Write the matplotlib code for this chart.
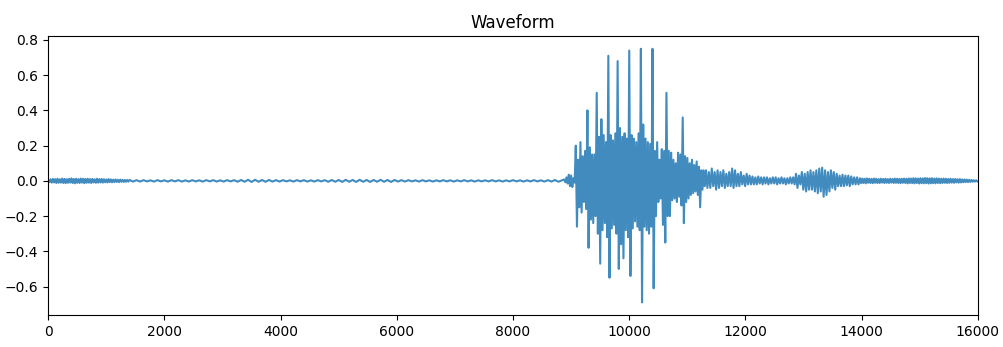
import numpy as np
import matplotlib
matplotlib.use("Agg")
import matplotlib.pyplot as plt

# Each segment: first sample index, samples per peak-trough pair, peaks, troughs.
# The quiet stretches are given in thousandths of full scale.
LEAD_START, LEAD_STEP = 0, 40
lead_peaks_milli = [6, 9, 11, 10, 12, 9, 13, 11, 10, 12,
                    14, 11, 12, 10, 13, 12, 11, 12, 10, 11,
                    9, 12, 10, 11, 9, 8, 10, 8, 7, 8,
                    6, 7, 6, 5, 5]
lead_troughs_milli = [-7, -10, -9, -12, -11, -10, -12, -13, -11, -10,
                      -12, -14, -11, -12, -10, -13, -11, -10, -12, -9,
                      -11, -10, -9, -10, -8, -9, -7, -8, -7, -6,
                      -7, -5, -6, -5, -4]

QUIET_START, QUIET_STEP = 1400, 120
quiet_peaks_milli = [5, 4, 4, 3, 4, 3, 4, 4, 3, 4,
                     3, 4, 4, 3, 4, 4, 5, 6, 6, 5,
                     5, 4, 4, 3, 4, 4, 3, 4, 4, 5,
                     5, 6, 5, 6, 5, 5, 6, 5, 5, 4,
                     4, 3, 4, 3, 3, 4, 3, 3, 4, 3,
                     3, 3, 4, 3, 3, 4, 3, 3, 4, 3,
                     4, 5]
quiet_troughs_milli = [-4, -4, -3, -4, -3, -4, -3, -4, -4, -3,
                       -4, -3, -4, -4, -3, -5, -5, -6, -5, -5,
                       -4, -4, -3, -4, -3, -4, -4, -3, -5, -5,
                       -6, -5, -6, -5, -6, -5, -5, -6, -4, -4,
                       -3, -4, -3, -4, -3, -3, -4, -3, -3, -4,
                       -3, -3, -3, -4, -3, -3, -4, -3, -3, -4,
                       -4, -5]

ONSET_START, ONSET_STEP = 8880, 40
onset_peaks = [0.008, 0.020, 0.035, 0.030, 0.015]
onset_troughs = [-0.008, -0.015, -0.030, -0.035, -0.010]

BURST_START, BURST_STEP = 9080, 40
burst_peaks = [0.20, 0.12, 0.22, 0.14, 0.17, 0.40, 0.19, 0.15, 0.15, 0.50,
               0.25, 0.35, 0.26, 0.22, 0.71, 0.26, 0.23, 0.27, 0.68, 0.30,
               0.25, 0.27, 0.24, 0.74, 0.26, 0.24, 0.22, 0.27, 0.75, 0.32,
               0.24, 0.22, 0.21, 0.75, 0.17, 0.22, 0.12, 0.18, 0.17, 0.50,
               0.17, 0.16, 0.12, 0.10, 0.16, 0.15, 0.36, 0.14, 0.13, 0.10,
               0.12, 0.09, 0.11, 0.08, 0.06, 0.06]
burst_troughs = [-0.26, -0.15, -0.18, -0.12, -0.16, -0.38, -0.22, -0.24, -0.20,
                 -0.30, -0.47, -0.28, -0.24, -0.32, -0.55, -0.27, -0.25, -0.30,
                 -0.50, -0.36, -0.44, -0.28, -0.32, -0.54, -0.27, -0.23, -0.26,
                 -0.28, -0.69, -0.26, -0.28, -0.30, -0.26, -0.61, -0.20, -0.12,
                 -0.10, -0.25, -0.35, -0.20, -0.20, -0.11, -0.10, -0.12, -0.09,
                 -0.14, -0.24, -0.12, -0.10, -0.08, -0.07, -0.06, -0.08, -0.15,
                 -0.05, -0.03]

TAIL_START, TAIL_STEP = 11320, 50
tail_peaks = [0.06, 0.05, 0.07, 0.05, 0.06, 0.05, 0.06, 0.04, 0.05, 0.07,
              0.06, 0.04, 0.05, 0.03, 0.04, 0.03, 0.025, 0.02, 0.025, 0.02,
              0.02, 0.02, 0.015, 0.02, 0.02, 0.015, 0.02, 0.015, 0.015, 0.02,
              0.02]
tail_troughs = [-0.04, -0.04, -0.03, -0.05, -0.04, -0.03, -0.04, -0.03, -0.03,
                -0.04, -0.03, -0.03, -0.02, -0.03, -0.02, -0.02, -0.02, -0.02,
                -0.015, -0.02, -0.015, -0.02, -0.015, -0.015, -0.02, -0.015,
                -0.015, -0.02, -0.015, -0.015, -0.02]

SECOND_START, SECOND_STEP = 12870, 50
second_peaks = [0.04, 0.03, 0.05, 0.04, 0.05, 0.06, 0.05, 0.06, 0.07, 0.075,
                0.06, 0.05, 0.06, 0.05, 0.04, 0.03, 0.035, 0.03, 0.03, 0.025,
                0.02, 0.02]
second_troughs = [-0.04, -0.02, -0.05, -0.06, -0.05, -0.05, -0.06, -0.07, -0.06,
                  -0.09, -0.08, -0.06, -0.04, -0.05, -0.03, -0.03, -0.03,
                  -0.025, -0.03, -0.02, -0.02, -0.02]

END_START, END_STEP = 13970, 40
end_peaks_milli = [15, 13, 12, 14, 12, 11, 13, 12, 10, 12,
                   11, 12, 10, 12, 11, 13, 12, 11, 12, 13,
                   12, 14, 13, 15, 14, 13, 15, 14, 16, 15,
                   14, 15, 13, 14, 13, 12, 13, 12, 11, 12,
                   10, 11, 9, 10, 8, 8, 7, 6, 5, 4,
                   3]
end_troughs_milli = [-13, -12, -14, -11, -12, -13, -11, -12, -12, -10,
                     -12, -11, -12, -10, -12, -11, -12, -13, -11, -12,
                     -14, -12, -13, -14, -12, -15, -13, -14, -13, -15,
                     -14, -13, -14, -12, -13, -12, -11, -12, -11, -10,
                     -11, -9, -10, -9, -8, -7, -7, -6, -5, -4,
                     -3]


def segment(start, step, peaks, troughs):
    x = start + step * np.arange(len(peaks))
    xs = np.column_stack([x, x + step / 2]).ravel()
    ys = np.column_stack([peaks, troughs]).ravel()
    return xs, ys


def milli(values):
    return np.asarray(values) / 1000.0


parts = [
    segment(LEAD_START, LEAD_STEP, milli(lead_peaks_milli), milli(lead_troughs_milli)),
    segment(QUIET_START, QUIET_STEP, milli(quiet_peaks_milli), milli(quiet_troughs_milli)),
    segment(ONSET_START, ONSET_STEP, onset_peaks, onset_troughs),
    segment(BURST_START, BURST_STEP, burst_peaks, burst_troughs),
    segment(TAIL_START, TAIL_STEP, tail_peaks, tail_troughs),
    segment(SECOND_START, SECOND_STEP, second_peaks, second_troughs),
    segment(END_START, END_STEP, milli(end_peaks_milli), milli(end_troughs_milli)),
]
samples = np.concatenate([p[0] for p in parts])
amplitude = np.concatenate([p[1] for p in parts])

fig, ax = plt.subplots(figsize=(10.04, 3.47), dpi=100)
ax.plot(samples, amplitude, color="C0", alpha=0.85, linewidth=1.5)
ax.set_xlim(0, 16000)
ax.set_title("Waveform")

plt.subplots_adjust(left=0.048, right=0.974, top=0.896, bottom=0.092)
fig.savefig("out.png", dpi=100)
